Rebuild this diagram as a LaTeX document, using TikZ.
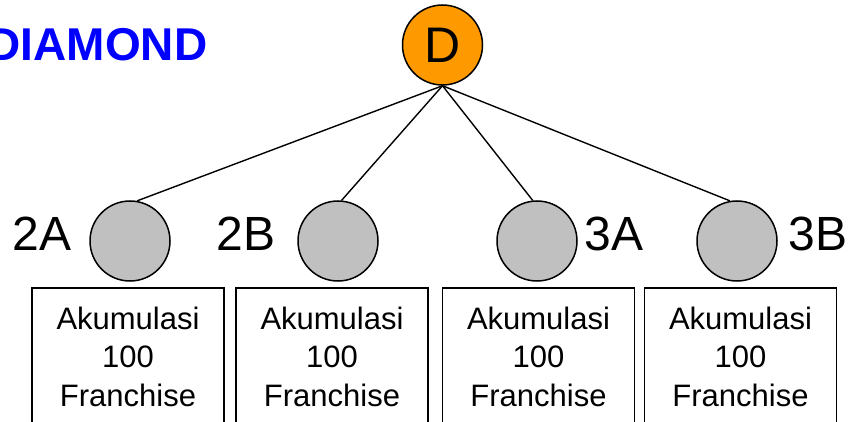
\documentclass[tikz,border=0pt]{standalone}
\usepackage{fontspec}
\setmainfont{Liberation Sans}
\usetikzlibrary{positioning}
\definecolor{dorange}{RGB}{255,153,0}
\definecolor{lgray}{RGB}{192,192,192}
\definecolor{titleblue}{RGB}{0,0,255}
\begin{document}
\begin{tikzpicture}[x=1pt, y=-1pt,
    member/.style={circle, draw, line width=1.5pt, fill=lgray, minimum size=80pt, inner sep=0pt},
    lbl/.style={inner sep=0pt, font=\fontsize{48}{56}\selectfont},
    akum/.style={draw, line width=1.5pt, minimum width=192pt, minimum height=138pt, anchor=north,
                 align=center, inner sep=0pt, font=\fontsize{31}{38.5}\selectfont}]
        % Frame (boxes run off the bottom)
        \clip (0,0) rectangle (848,422);

        % Title
        \node[anchor=base east, inner sep=0pt, text=titleblue,
              font=\fontsize{46}{54}\selectfont\bfseries] (title) at (207.5,61) {DIAMOND};

        % Top node
        \node[circle, draw, line width=1.5pt, fill=dorange, minimum size=80pt, inner sep=0pt,
              font=\fontsize{50}{60}\selectfont] (D) at (442.5,45) {D};

        % Second level
        \node[member] (c2A) at (130,241) {};
        \node[member] (c2B) at (338,241) {};
        \node[member] (c3A) at (537,241) {};
        \node[member] (c3B) at (737,241) {};

        % Labels
        \node[lbl] (l2A) at (42,234) {2A};
        \node[lbl] (l2B) at (246,234) {2B};
        \node[lbl] (l3A) at (614,234) {3A};
        \node[lbl] (l3B) at (818,234) {3B};

        % Links
        \draw[line width=1.4pt] (D.south) -- (c2A.80);
        \draw[line width=1.4pt] (D.south) -- (c2B.85);
        \draw[line width=1.4pt] (D.south) -- (c3A.96);
        \draw[line width=1.4pt] (D.south) -- (c3B.100);

        % Boxes
        \node[akum] (b2A) at (128,287) {Akumulasi\\100\\Franchise};
        \node[akum] (b2B) at (332,287) {Akumulasi\\100\\Franchise};
        \node[akum] (b3A) at (538.5,287) {Akumulasi\\100\\Franchise};
        \node[akum] (b3B) at (740.5,287) {Akumulasi\\100\\Franchise};
      \end{tikzpicture}
\end{document}
